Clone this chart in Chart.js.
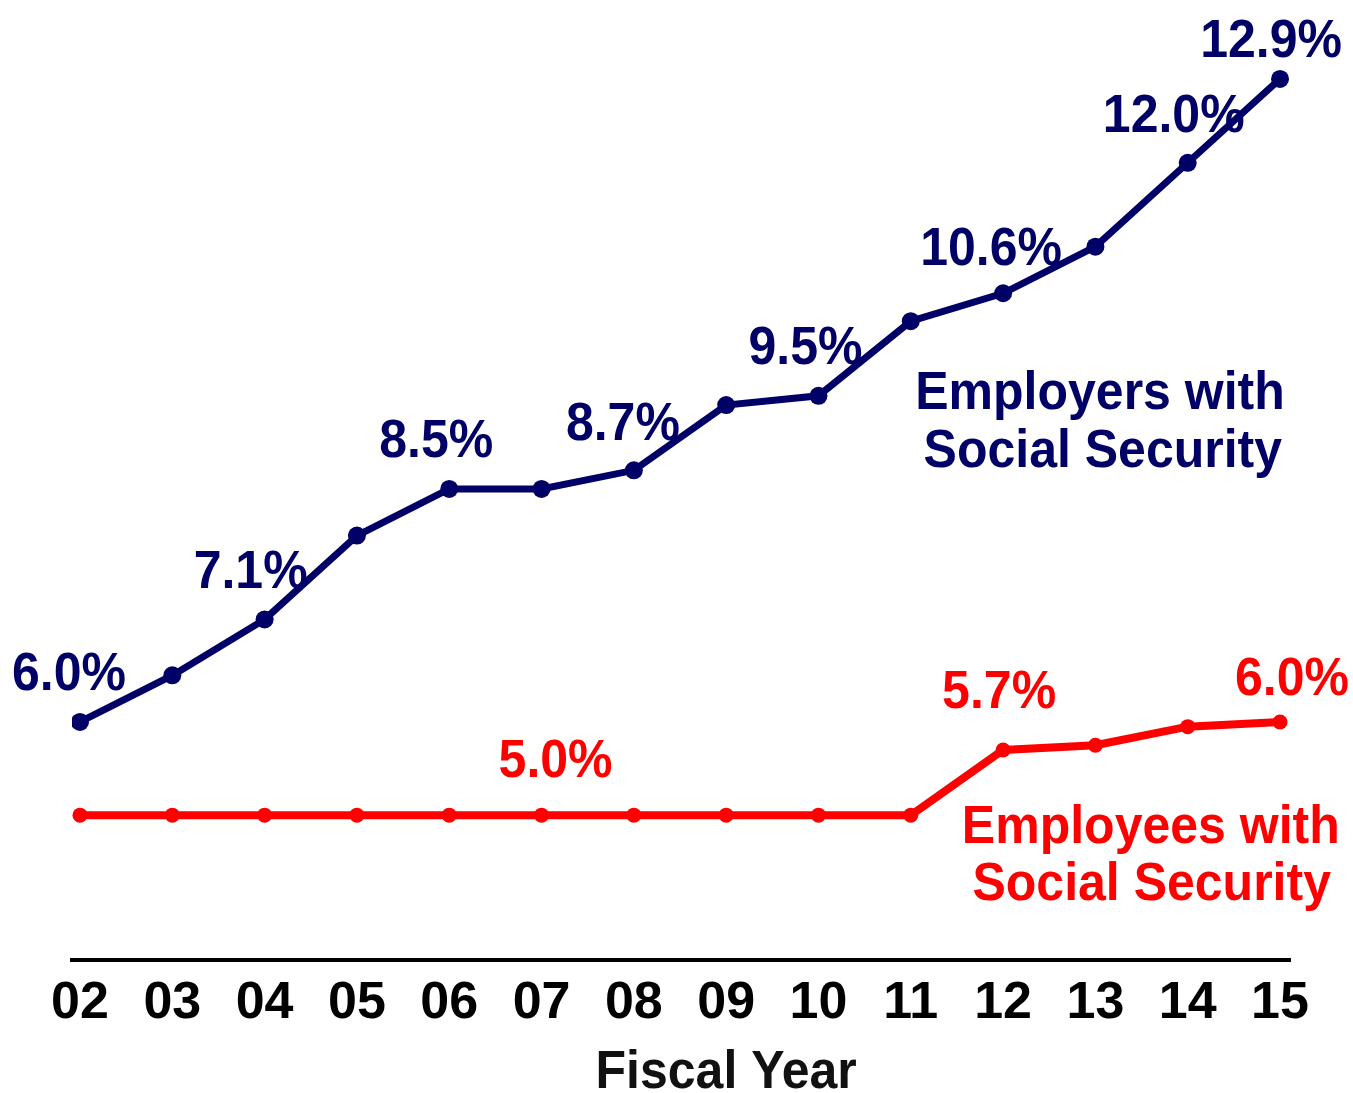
<!DOCTYPE html>
<html>
<head>
<meta charset="utf-8">
<script src="https://cdn.jsdelivr.net/npm/chart.js@4/dist/chart.umd.min.js"></script>
<style>
  html, body { margin: 0; padding: 0; background: #fff; }
  canvas { display: block; }
</style>
</head>
<body>
<canvas id="chart" width="1353" height="1093"></canvas>
<script>
const years = ['02', '03', '04', '05', '06', '07', '08', '09', '10', '11', '12', '13', '14', '15'];
const employers = [6.0, 6.5, 7.1, 8.0, 8.5, 8.5, 8.7, 9.4, 9.5, 10.3, 10.6, 11.1, 12.0, 12.9];
const employees = [5.0, 5.0, 5.0, 5.0, 5.0, 5.0, 5.0, 5.0, 5.0, 5.0, 5.7, 5.75, 5.95, 6.0];

const NAVY = '#000066';
const RED = '#ff0000';
const FONT = '"Liberation Sans", Arial, sans-serif';

function drawText(ctx, text, x, y, color) {
  ctx.save();
  ctx.translate(x, y);
  ctx.scale(1, 1.08);
  ctx.fillStyle = color;
  ctx.fillText(text, 0, 0);
  ctx.restore();
}

// value labels sit under the lines, notes on top
const labelPlugin = {
  id: 'labels',
  beforeDatasetsDraw(chart, args, opts) {
    const ctx = chart.ctx;
    ctx.save();
    ctx.font = 'bold 50px ' + FONT;
    ctx.textAlign = 'center';
    ctx.textBaseline = 'alphabetic';
    opts.valueLabels.forEach(l => {
      const ds = chart.data.datasets[l.ds];
      const pt = chart.getDatasetMeta(l.ds).data[l.i];
      drawText(ctx, ds.data[l.i].y.toFixed(1) + '%', pt.x + l.dx, pt.y + l.dy, ds.borderColor);
    });
    ctx.restore();
  },
  afterDatasetsDraw(chart, args, opts) {
    const ctx = chart.ctx;
    const xs = chart.scales.x, ys = chart.scales.y;
    ctx.save();
    ctx.font = 'bold 50px ' + FONT;
    ctx.textAlign = 'center';
    ctx.textBaseline = 'alphabetic';
    opts.notes.forEach(n => {
      drawText(ctx, n.text, xs.getPixelForValue(n.x), ys.getPixelForValue(n.y), n.color);
    });
    drawText(ctx, 'Fiscal Year', xs.getPixelForValue(7), chart.chartArea.bottom + 128, '#111');
    ctx.restore();
  }
};

new Chart(document.getElementById('chart'), {
  type: 'line',
  data: {
    datasets: [{
      label: 'Employers with Social Security',
      data: employers.map((v, i) => ({ x: i, y: v })),
      borderColor: NAVY,
      backgroundColor: NAVY,
      borderWidth: 7,
      pointRadius: 9,
      pointBorderWidth: 0,
      tension: 0
    }, {
      label: 'Employees with Social Security',
      data: employees.map((v, i) => ({ x: i, y: v })),
      borderColor: RED,
      backgroundColor: RED,
      borderWidth: 8,
      pointRadius: 7.5,
      pointBorderWidth: 0,
      tension: 0
    }]
  },
  options: {
    responsive: false,
    animation: false,
    layout: { padding: { left: 72, right: 63, top: 0, bottom: 0 } },
    scales: {
      x: {
        type: 'linear',
        min: -0.0867,
        max: 13.108,
        afterBuildTicks: axis => { axis.ticks = years.map((_, i) => ({ value: i })); },
        afterFit: axis => { axis.height = 133; },
        grid: { display: false },
        border: { display: true, color: '#000', width: 4 },
        ticks: {
          autoSkip: false,
          maxRotation: 0,
          padding: 4,
          color: '#000',
          font: { family: FONT, size: 52, weight: 'bold' },
          callback: v => years[v]
        }
      },
      y: {
        display: false,
        min: 3.446,
        max: 13.65
      }
    },
    plugins: {
      legend: { display: false },
      tooltip: { enabled: false },
      labels: {
        valueLabels: [
          { ds: 0, i: 0, dx: -11, dy: -32 },
          { ds: 0, i: 2, dx: -14, dy: -31 },
          { ds: 0, i: 4, dx: -13, dy: -32 },
          { ds: 0, i: 6, dx: -11, dy: -30 },
          { ds: 0, i: 8, dx: -13, dy: -32 },
          { ds: 0, i: 10, dx: -12, dy: -28 },
          { ds: 0, i: 12, dx: -14, dy: -31 },
          { ds: 0, i: 13, dx: -9, dy: -22 },
          { ds: 1, i: 5, dx: 14, dy: -38 },
          { ds: 1, i: 10, dx: -4, dy: -42 },
          { ds: 1, i: 13, dx: 12, dy: -27 }
        ],
        notes: [
          { text: 'Employers with', x: 11.05, y: 9.355, color: NAVY },
          { text: 'Social Security', x: 11.08, y: 8.731, color: NAVY },
          { text: 'Employees with', x: 11.60, y: 4.699, color: RED },
          { text: 'Social Security', x: 11.61, y: 4.086, color: RED }
        ]
      }
    }
  },
  plugins: [labelPlugin]
});
</script>
</body>
</html>
